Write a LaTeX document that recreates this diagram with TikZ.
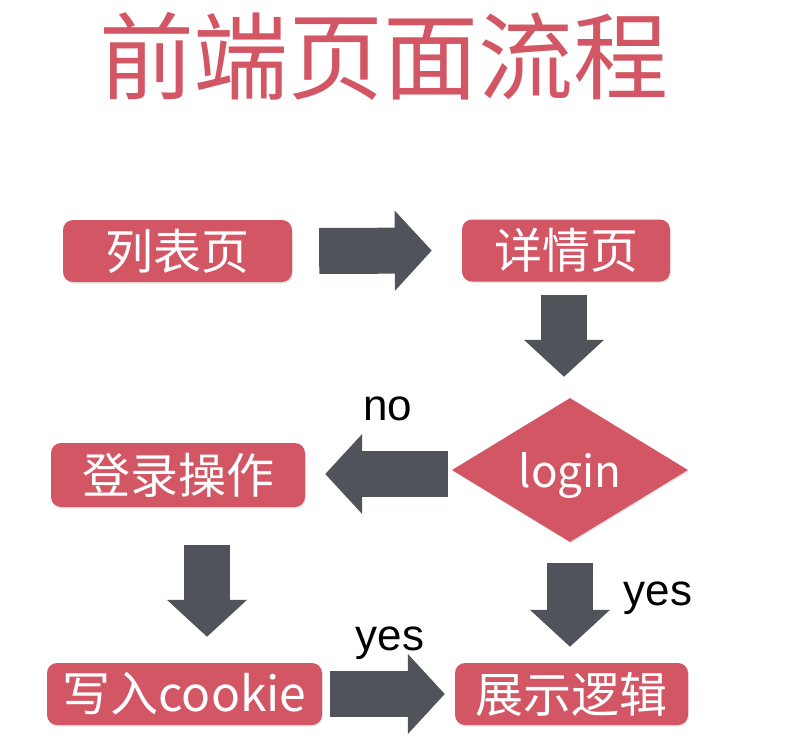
\documentclass[tikz,border=0pt]{standalone}
\usepackage{fontspec}
\setmainfont{Noto Sans CJK SC}
\newfontfamily\labfont{Liberation Sans}
\usetikzlibrary{
  arrows.meta,
  positioning,
  shapes.geometric,
  calc,
  shadows
}
\definecolor{flowred}{RGB}{211,86,101}
\definecolor{flowgray}{RGB}{80,83,89}

\begin{document}
\begin{tikzpicture}[
  x=1pt, y=-1pt,
  every node/.style={inner sep=0pt},
  stepbox/.style={fill=flowred, rounded corners=10pt, text=white,
    minimum height=62pt, font=\fontsize{48}{48}\selectfont,
    drop shadow={opacity=0.2, shadow xshift=0.8pt, shadow yshift=-1.5pt}},
  blockarrow/.style={flowgray, line width=46pt,
    -{Triangle[width=78pt, length=37pt]}},
  answer/.style={anchor=base, font=\labfont\fontsize{44}{44}\selectfont}
]
\useasboundingbox (0,0) rectangle (796,747);

% Title
\node[text=flowred, font=\fontsize{95}{95}\selectfont] (title) at (384,56)
  {前端页面流程};

% Top row
\node[stepbox, minimum width=229pt] (list) at (177.5,251) {列表页};
\node[stepbox, minimum width=208pt] (detail) at (566,250.5) {详情页};

% Decision
\node[diamond, fill=flowred, text=white, minimum width=236pt,
      minimum height=144pt, text depth=0pt, font=\fontsize{44}{44}\selectfont,
      drop shadow={opacity=0.2, shadow xshift=0.8pt, shadow yshift=-1.5pt}]
  (login) at (570,470) {login};

% Middle and bottom rows
\node[stepbox, minimum width=254pt, minimum height=64pt] (signin) at (178,475)
  {登录操作};
\node[stepbox, minimum width=275pt] (cookie) at (184.5,694) {写入cookie};
\node[stepbox, minimum width=233pt] (show) at (571.5,694) {展示逻辑};

% Arrows
\draw[blockarrow, shorten <=27pt, shorten >=30pt] (list.east) -- (detail.west);
\draw[blockarrow, shorten <=13pt, shorten >=21pt]
  ([xshift=-2pt]detail.south) -- ([xshift=-2pt]detail.south |- login.north);
\draw[blockarrow, shorten <=4pt, shorten >=20pt]
  (login.west |- 0,474) -- (signin.east |- 0,474);
\coordinate (drop) at ([xshift=29pt]signin.south);
\draw[blockarrow, shorten <=38pt, shorten >=26pt] (drop) -- (drop |- cookie.north);
\draw[blockarrow, shorten <=21pt, shorten >=16pt] (login.south) -- (login.south |- show.north);
\draw[blockarrow, shorten <=8pt, shorten >=10pt] (cookie.east) -- (show.west);

% Labels
\node[answer] (no) at (388,420) {no};
\node[answer] (yesright) at (658,605) {yes};
\node[answer] (yesbottom) at (390,650) {yes};

\end{tikzpicture}
\end{document}
